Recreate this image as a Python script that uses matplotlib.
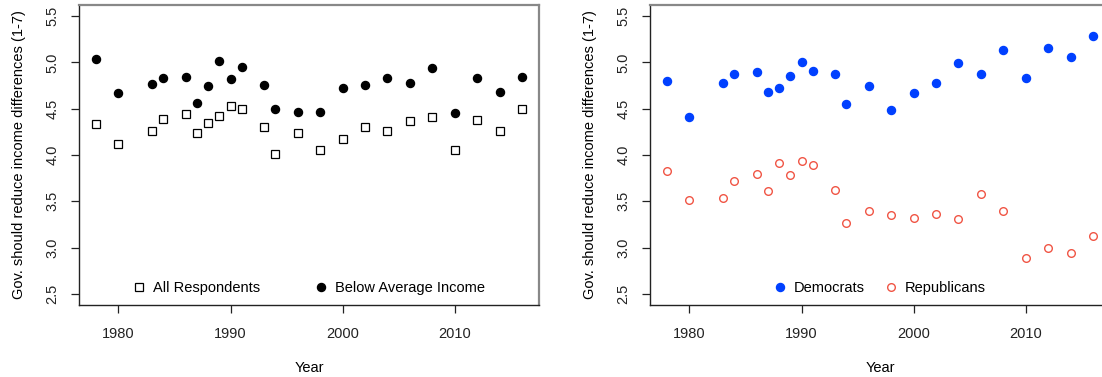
import matplotlib.pyplot as plt

plt.rcParams['font.family'] = ['Liberation Sans', 'DejaVu Sans']

years = [1978, 1980, 1983, 1984, 1986, 1987, 1988, 1989, 1990, 1991, 1993, 1994,
         1996, 1998, 2000, 2002, 2004, 2006, 2008, 2010, 2012, 2014, 2016]

# left panel
all_resp = [4.34, 4.12, 4.26, 4.39, 4.44, 4.24, 4.35, 4.42, 4.53, 4.50, 4.30, 4.01,
            4.24, 4.05, 4.17, 4.30, 4.26, 4.37, 4.41, 4.05, 4.38, 4.26, 4.50]
below_avg = [5.04, 4.67, 4.77, 4.83, 4.84, 4.56, 4.75, 5.02, 4.82, 4.95, 4.76, 4.50,
             4.46, 4.46, 4.72, 4.76, 4.83, 4.78, 4.94, 4.45, 4.83, 4.68, 4.84]

# right panel
democrats = [4.80, 4.41, 4.78, 4.87, 4.90, 4.68, 4.72, 4.85, 5.00, 4.91, 4.87, 4.55,
             4.74, 4.49, 4.67, 4.78, 4.99, 4.88, 5.13, 4.83, 5.16, 5.06, 5.29]
republicans = [3.83, 3.51, 3.54, 3.72, 3.79, 3.61, 3.91, 3.78, 3.93, 3.89, 3.62, 3.27,
               3.40, 3.35, 3.32, 3.36, 3.31, 3.58, 3.40, 2.89, 3.00, 2.94, 3.12]

yticks = [2.5, 3.0, 3.5, 4.0, 4.5, 5.0, 5.5]
xticks = [1980, 1990, 2000, 2010]
ylab = 'Gov. should reduce income differences (1-7)'

blue = '#0040FF'
red = '#F05545'
fs = 10.5

fig = plt.figure(figsize=(11.02, 3.77), dpi=100)
ax1 = fig.add_axes([79 / 1102, 1 - 305 / 377, 460 / 1102, 300 / 377])
ax2 = fig.add_axes([650 / 1102, 1 - 305 / 377, 460 / 1102, 300 / 377])


def style(ax):
    ax.set_xlim(1976.48, 2017.52)
    ax.set_ylim(2.38, 5.62)
    ax.set_xticks(xticks)
    ax.set_yticks(yticks)
    ax.set_yticklabels([f'{v:.1f}' for v in yticks], rotation=90, va='center')
    ax.tick_params(direction='out', length=6, width=0.9, labelsize=fs, colors='#222222')
    ax.tick_params(axis='x', pad=10)
    ax.tick_params(axis='y', pad=8)
    for s in ['top', 'right']:
        ax.spines[s].set_color('#888888')
        ax.spines[s].set_linewidth(1.6)
    for s in ['left', 'bottom']:
        ax.spines[s].set_color('#222222')
        ax.spines[s].set_linewidth(1.0)
    ax.set_xlabel('Year', fontsize=fs, labelpad=14)
    ax.set_ylabel(ylab, fontsize=fs, labelpad=14)


ax1.plot(years, all_resp, ls='none', marker='s', ms=5.2, mfc='white', mec='black',
         mew=0.9, label='All Respondents')
ax1.plot(years, below_avg, ls='none', marker='o', ms=5.8, color='black',
         label='Below Average Income')
style(ax1)
ax1.legend(loc='lower center', ncol=2, frameon=False, fontsize=fs, handlelength=0.8,
           handletextpad=0.55, columnspacing=3.8, borderaxespad=0.3)

ax2.plot(years, democrats, ls='none', marker='o', ms=5.8, color=blue, label='Democrats')
ax2.plot(years, republicans, ls='none', marker='o', ms=5.5, mfc='white', mec=red,
         mew=1.0, label='Republicans')
style(ax2)
ax2.legend(loc='lower center', ncol=2, frameon=False, fontsize=fs, handlelength=0.8,
           handletextpad=0.55, columnspacing=1.4, borderaxespad=0.3)

fig.savefig('out.png', dpi=100)
